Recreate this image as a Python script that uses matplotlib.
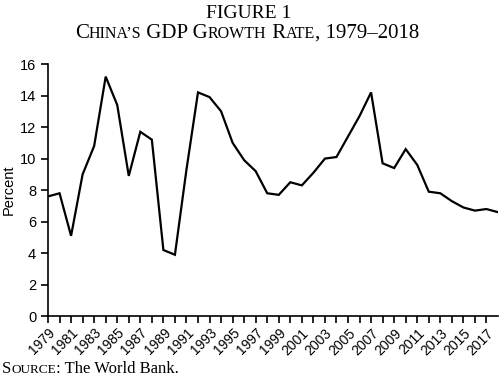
import matplotlib
matplotlib.use("Agg")
import matplotlib.pyplot as plt

years = list(range(1979, 2019))
growth = [7.6, 7.8, 5.1, 9.0, 10.8, 15.2, 13.4, 8.9, 11.7, 11.2,
          4.2, 3.9, 9.3, 14.2, 13.9, 13.0, 11.0, 9.9, 9.2, 7.8,
          7.7, 8.5, 8.3, 9.1, 10.0, 10.1, 11.4, 12.7, 14.2, 9.7,
          9.4, 10.6, 9.6, 7.9, 7.8, 7.3, 6.9, 6.7, 6.8, 6.6]
tick_years = list(range(1979, 2018))
label_years = list(range(1979, 2018, 2))

plt.rcParams["font.family"] = "Liberation Sans"

fig = plt.figure(figsize=(5.0, 3.81), dpi=100)
ax = fig.add_axes([0.096, 0.17, 0.9, 0.662])

ax.plot(years, growth, color="black", linewidth=1.6, solid_joinstyle="miter")
ax.set_xlim(1979, 2018)
ax.set_ylim(0, 16)
ax.set_yticks(range(0, 17, 2))
ax.set_xticks(tick_years)
ax.set_xticklabels([str(y) if y in label_years else "" for y in tick_years],
                   rotation=45, ha="right", rotation_mode="anchor", fontsize=10)
ax.tick_params(axis="y", labelsize=10.5, length=5, width=1.2)
ax.tick_params(axis="x", length=5, width=1.2, pad=2)
ax.set_ylabel("Percent", fontsize=10.5)
ax.yaxis.set_label_coords(-0.072, 0.5)
for s in ["top", "right"]:
    ax.spines[s].set_visible(False)
for s in ["left", "bottom"]:
    ax.spines[s].set_linewidth(1.2)

serif = "Liberation Serif"
renderer = fig.canvas.get_renderer()


def small_caps(parts, x, y, big, small, center=True):
    # parts: list of (text, is_big); draw side by side in pixels
    W, H = fig.bbox.width, fig.bbox.height
    texts = []
    total = 0
    for txt, is_big in parts:
        t = fig.text(0, y / H, txt, fontsize=big if is_big else small,
                     family=serif, va="baseline", ha="left")
        w = t.get_window_extent(renderer).width
        texts.append((t, w))
        total += w
    cx = x - total / 2 if center else x
    for t, w in texts:
        t.set_x(cx / W)
        cx += w


H = fig.bbox.height
fig.text(0.497, 1 - 18 / H, "FIGURE 1", family=serif, fontsize=14,
         ha="center", va="baseline")
small_caps([("C", True), ("HINA\u2019S", False), (" GDP G", True), ("ROWTH", False),
            (" R", True), ("ATE", False), (", 1979\u20132018", True)],
           247, H - 38, 15, 11.5)
small_caps([("S", True), ("OURCE", False), (": The World Bank.", True)],
           2, H - 373, 12, 9.5, center=False)

fig.savefig("out.png", dpi=100)
